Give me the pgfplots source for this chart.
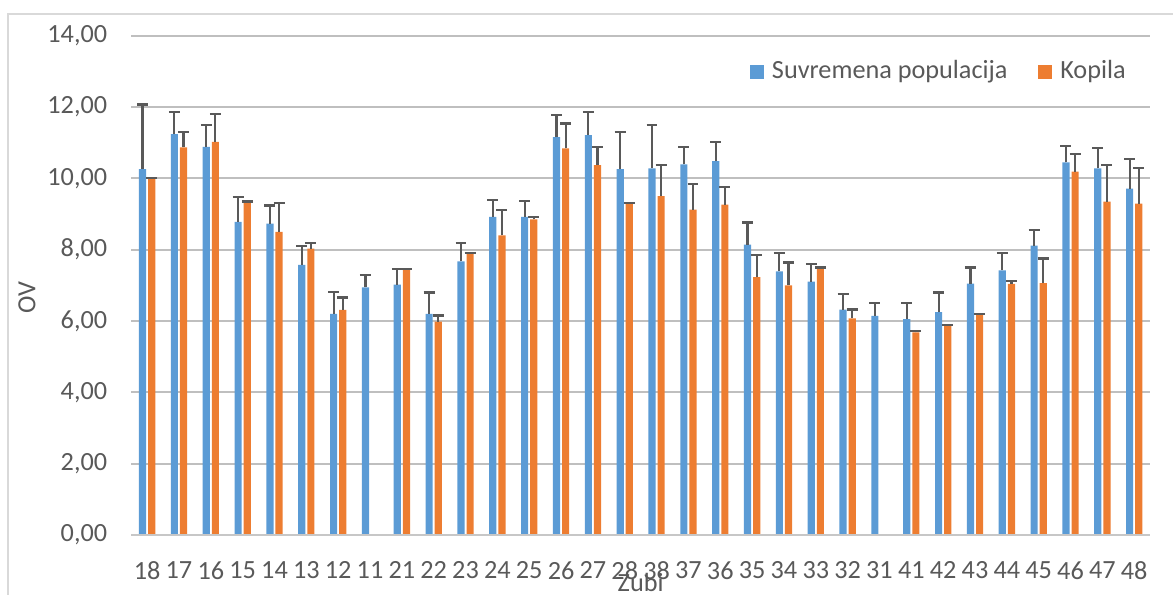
\documentclass[border=0pt]{standalone}
\usepackage{pgfplots}
\pgfplotsset{compat=1.18}
\usepackage{pgfplotstable}
\usepackage{fontspec}
\setmainfont{Carlito}
\usetikzlibrary{calc}
\definecolor{cblue}{HTML}{5B9BD5}
\definecolor{corange}{HTML}{ED7D31}
\definecolor{txt}{HTML}{595959}
\definecolor{grid}{HTML}{D9D9D9}
\definecolor{ebar}{HTML}{595959}

% idx value err
\pgfplotstableread{
x y e
0 10.26 1.81
1 11.24 0.62
2 10.88 0.62
3 8.78 0.69
4 8.73 0.51
5 7.57 0.53
6 6.20 0.62
7 6.94 0.34
8 7.02 0.44
9 6.20 0.60
10 7.67 0.52
11 8.92 0.47
12 8.92 0.44
13 11.16 0.61
14 11.21 0.65
15 10.26 1.04
16 10.28 1.21
17 10.39 0.49
18 10.48 0.55
19 8.14 0.62
20 7.39 0.52
21 7.10 0.49
22 6.32 0.43
23 6.14 0.37
24 6.05 0.46
25 6.25 0.55
26 7.05 0.45
27 7.42 0.48
28 8.11 0.43
29 10.45 0.46
30 10.28 0.57
31 9.71 0.83
}\suvremena

\pgfplotstableread{
x y e
0 10.00 0.02
1 10.87 0.42
2 11.02 0.78
3 9.33 0.02
4 8.50 0.81
5 8.03 0.16
6 6.31 0.35
8 7.45 0.01
9 5.98 0.17
10 7.88 0.02
11 8.40 0.72
12 8.85 0.07
13 10.84 0.70
14 10.37 0.50
15 9.29 0.02
16 9.50 0.87
17 9.12 0.73
18 9.26 0.49
19 7.23 0.62
20 7.00 0.64
21 7.49 0.01
22 6.07 0.25
24 5.68 0.03
25 5.88 0.01
26 6.17 0.02
27 7.04 0.07
28 7.06 0.69
29 10.19 0.50
30 9.35 1.03
31 9.29 1.00
}\kopila

\begin{document}
\fontsize{13.2}{15.8}\selectfont
\begin{tikzpicture}
\begin{axis}[
  scale only axis,
  width=512.5pt, height=251pt,
  ybar=1pt, bar width=3.6pt,
  xmin=-0.5, xmax=31.5,
  ymin=0, ymax=14,
  ytick={0,2,...,14},
  xtick={0,...,31},
  xticklabels={18,17,16,15,14,13,12,11,21,22,23,24,25,26,27,28,38,37,36,35,34,33,32,31,41,42,43,44,45,46,47,48},
  major tick length=0pt,
  axis line style={draw=none},
  xmajorgrids=false,
  ymajorgrids=true,
  grid style={grid, line width=1pt},
  tick label style={font=\fontsize{13.2}{15.8}\selectfont, color=txt},
  /pgf/number format/assume math mode=true,
  yticklabel style={xshift=-7.5pt, /pgf/number format/fixed, /pgf/number format/fixed zerofill, /pgf/number format/precision=2, /pgf/number format/use comma},
  xticklabel style={yshift=-9pt},
  ylabel={OV},
  xlabel={Zubi},
  every axis y label/.style={at={(axis description cs:-0.1024,0.475)}, anchor=center, rotate=90, font=\fontsize{13.2}{15.8}\selectfont, color=txt},
  every axis x label/.style={at={(axis description cs:0.5,0)}, anchor=north, yshift=-15pt, font=\fontsize{13.2}{15.8}\selectfont, color=txt},
  clip=false,
  legend columns=2,
  legend style={draw=none, fill=none, at={(axis description cs:0.607,0.9283)}, anchor=west, inner sep=0pt,
    font=\fontsize{13.2}{15.8}\selectfont, text=txt,
    nodes={inner sep=0pt},
    /tikz/every odd column/.append style={column sep=4pt},
    /tikz/every even column/.append style={column sep=15.5pt}},
  legend image code/.code={\fill[#1] (0pt,-3.5pt) rectangle (7pt,3.5pt);},
  error bars/error bar style={ebar, line width=1.1pt},
  error bars/error mark options={rotate=90, ebar, line width=1.1pt, mark size=2.75pt},
]
\addplot[fill=cblue, draw=none, error bars/.cd, y dir=plus, y explicit] table[x=x, y=y, y error=e] {\suvremena};
\addlegendentry{Suvremena populacija}
\addplot[fill=corange, draw=none, error bars/.cd, y dir=plus, y explicit] table[x=x, y=y, y error=e] {\kopila};
\addlegendentry{Kopila}
\draw[color=grid!80!gray, line width=1pt] (rel axis cs:0,0) -- (rel axis cs:1,0);
\coordinate (bl) at (rel axis cs:0,0);
\coordinate (tr) at (rel axis cs:1,1);
\end{axis}
\draw[grid, line width=1pt] ($(bl)+(-62pt,-40pt)$) -- ($(bl|-tr)+(-62pt,11pt)$) -- ($(tr)+(20pt,11pt)$);
\pgfresetboundingbox
\path[use as bounding box] ($(bl)+(-66pt,-30pt)$) rectangle ($(tr)+(11.5pt,18pt)$);
\end{tikzpicture}
\end{document}
